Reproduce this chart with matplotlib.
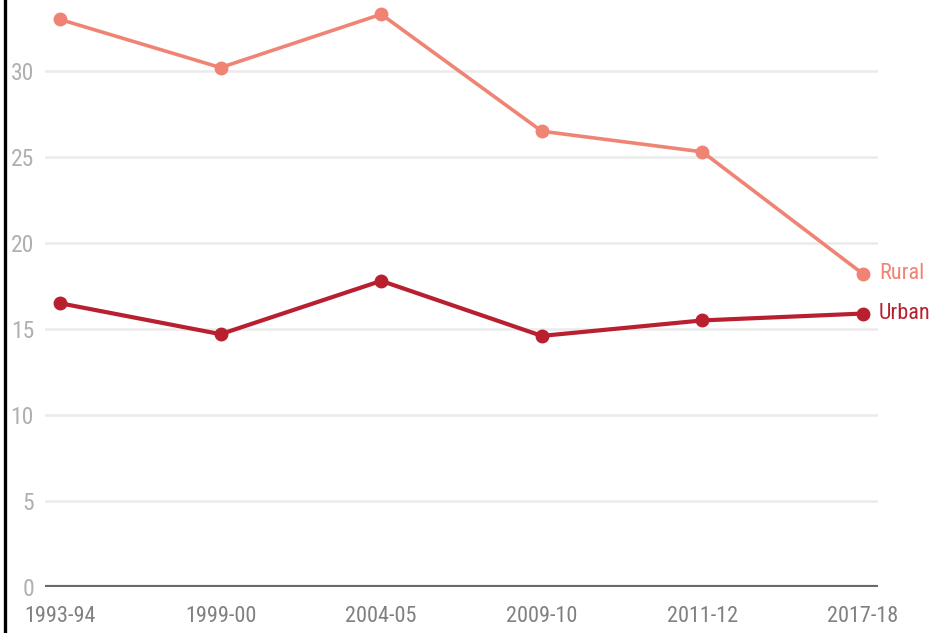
import matplotlib
matplotlib.use('Agg')
import matplotlib.pyplot as plt
from matplotlib.lines import Line2D

years = ['1993-94', '1999-00', '2004-05', '2009-10', '2011-12', '2017-18']
rural = [33.0, 30.2, 33.3, 26.5, 25.3, 18.2]
urban = [16.5, 14.7, 17.8, 14.6, 15.5, 15.9]

rural_col = '#f08474'
urban_col = '#b9202f'

plt.rcParams['font.family'] = ['Roboto Condensed', 'DejaVu Sans']

fig = plt.figure(figsize=(9.42, 6.33), dpi=100)
ax = fig.add_axes([45 / 942, 46 / 633, 833 / 942, 587 / 633])

x = range(len(years))
ax.plot(x, rural, color=rural_col, lw=2.6, marker='o', ms=9, zorder=3,
        clip_on=False)
ax.plot(x, urban, color=urban_col, lw=3, marker='o', ms=9, zorder=3,
        clip_on=False)

ax.text(5.1, rural[-1], 'Rural', color=rural_col, fontsize=16, va='center',
        ha='left')
ax.text(5.1, urban[-1], 'Urban', color=urban_col, fontsize=16, va='center',
        ha='left')

ax.set_xlim(-0.093, 5.093)
ax.set_ylim(0, 34.13)
ax.set_yticks([0, 5, 10, 15, 20, 25, 30])
ax.set_xticks(list(x))
ax.set_xticklabels(years)

for y in [5, 10, 15, 20, 25, 30]:
    ax.axhline(y, color='#ebebeb', lw=1.8, zorder=1)
ax.axhline(0, color='#6a6a6a', lw=3, zorder=2)

for s in ax.spines.values():
    s.set_visible(False)
ax.tick_params(axis='y', length=0, pad=8, labelsize=17, labelcolor='#b0b0b0')
ax.tick_params(axis='x', length=0, pad=14, labelsize=16, labelcolor='#808080')

# black rule down the left edge
fig.add_artist(Line2D([4.5 / 942, 4.5 / 942], [0, 1], color='black', lw=2.4))

fig.savefig('out.png', dpi=100, facecolor='white')
